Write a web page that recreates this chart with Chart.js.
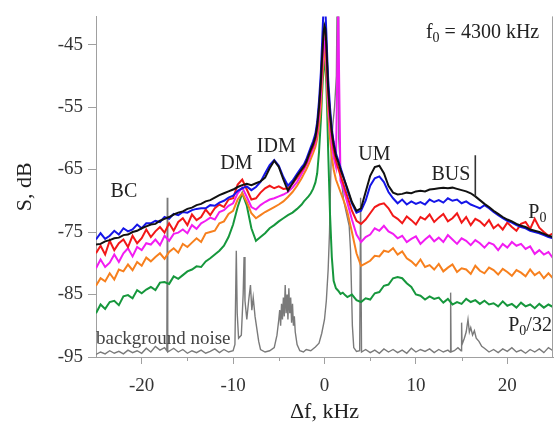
<!DOCTYPE html>
<html>
<head>
<meta charset="utf-8">
<script src="https://cdn.jsdelivr.net/npm/chart.js@4.4.1/dist/chart.umd.min.js"></script>
<style>
  html, body { margin: 0; padding: 0; background: #fff; }
  #wrap { width: 558px; height: 423px; }
</style>
</head>
<body>
<div id="wrap"><canvas id="spec" width="558" height="423"></canvas></div>
<script>
// frequency offset, kHz (denser around the pump line)
const df = [
  -25, -24.5, -24, -23.5, -23, -22.5, -22, -21.5, -21, -20.5, -20, -19.5, -19, -18.5, -18, -17.5, -17, -16.5, -16, -15.5, -15, -14.5, -14, -13.5, -13, -12.5, -12, -11.5, -11, -10.5, -10, -9.5, -9, -8.5, -8, -7.5, -7, -6.5, -6, -5.5, -5, -4.5, -4, -3.5, -3, -2.5,
  -2.25, -2, -1.75, -1.5, -1.25, -1, -0.8, -0.6, -0.4, -0.3, -0.2, -0.1, 0, 0.1, 0.2, 0.3, 0.4, 0.6, 0.8, 1, 1.25, 1.5, 1.75, 2, 2.25,
  2.5, 3, 3.5, 4, 4.5, 5, 5.5, 6, 6.5, 7, 7.5, 8, 8.5, 9, 9.5, 10, 10.5, 11, 11.5, 12, 12.5, 13, 13.5, 14, 14.5, 15, 15.5, 16, 16.5, 17, 17.5, 18, 18.5, 19, 19.5, 20, 20.5, 21, 21.5, 22, 22.5, 23, 23.5, 24, 24.5, 25
];

// spectra S, dB for pump powers P0 ... P0/32
const sP0 = [
  -77.0, -76.9, -76.5, -76.3, -76.0, -75.9, -75.5, -75.4, -75.0, -74.8, -74.4, -74.1, -73.8, -73.7, -73.2, -72.9, -72.6, -72.2, -71.9, -71.7, -71.3, -71.1, -70.7, -70.5, -70.1, -69.9, -69.5, -69.1, -68.8, -68.5, -68.2, -67.8, -67.5, -67.3, -67.5, -67.2, -66.9, -66.3, -64.8, -63.6, -64.6, -66.6, -68.4, -67.2, -66.0, -65.0,
  -64.5, -63.8, -62.8, -61.8, -61.0, -59.8, -58.0, -55.0, -51.0, -48.0, -45.5, -43.0, -42.0, -42.5, -45.0, -48.5, -52.0, -56.0, -59.0, -61.0, -62.8, -63.8, -65.0, -66.0, -67.0,
  -68.0, -70.2, -71.6, -71.2, -68.6, -66.0, -64.6, -64.4, -65.6, -67.6, -68.7, -69.0, -68.9, -68.7, -68.8, -68.5, -68.4, -68.5, -68.2, -68.1, -68.0, -67.9, -68.0, -67.9, -68.1, -68.3, -68.5, -68.8, -69.3, -69.9, -70.5, -71.0, -71.6, -72.1, -72.6, -73.0, -73.3, -73.7, -74.0, -74.2, -74.6, -74.8, -75.0, -75.3, -75.6, -75.8
];
const sP0_2 = [
  -76.2, -75.2, -76.1, -75.6, -74.8, -75.4, -74.4, -74.9, -74.6, -73.8, -74.4, -73.6, -73.6, -73.2, -73.4, -72.6, -72.9, -72.1, -72.3, -71.8, -71.9, -71.5, -71.3, -71.2, -71.2, -70.7, -70.8, -70.3, -70.0, -69.5, -69.2, -68.4, -68.0, -67.7, -68.3, -67.8, -67.0, -65.6, -64.3, -63.5, -64.4, -66.2, -67.6, -66.8, -65.7, -64.6,
  -64.2, -63.4, -62.4, -61.4, -60.5, -59.3, -57.4, -54.0, -49.5, -46.0, -42.5, -39.0, -38.0, -39.5, -43.0, -47.0, -50.5, -55.0, -58.5, -60.6, -62.4, -63.5, -64.7, -65.8, -67.0,
  -68.3, -70.4, -71.9, -71.6, -70.0, -67.6, -66.4, -66.1, -67.0, -68.6, -69.6, -70.4, -69.8, -70.6, -70.1, -70.5, -70.2, -70.6, -69.8, -70.2, -69.9, -70.3, -69.6, -70.0, -69.8, -70.4, -70.1, -70.6, -70.9, -71.2, -70.7, -71.2, -71.8, -72.3, -72.8, -73.2, -73.5, -73.9, -74.2, -74.4, -74.8, -75.0, -75.2, -75.5, -75.8, -76.0
];
const sP0_4 = [
  -78.4, -77.2, -78.6, -76.4, -77.9, -76.8, -76.2, -77.4, -75.6, -76.8, -76.0, -74.6, -75.8, -74.9, -74.2, -75.1, -73.6, -74.8, -73.4, -72.8, -73.9, -72.2, -73.1, -72.6, -71.4, -72.3, -71.2, -70.6, -71.0, -69.8, -69.6, -67.4, -66.6, -68.2, -69.8, -69.6, -68.7, -68.0, -67.6, -68.0, -67.7, -68.1, -68.0, -67.3, -66.3, -65.2,
  -64.7, -64.0, -63.0, -62.1, -61.3, -60.1, -58.5, -55.5, -51.5, -48.5, -45.5, -43.0, -42.5, -43.0, -45.5, -49.0, -52.2, -56.5, -59.6, -61.8, -63.5, -64.8, -66.0, -67.0, -68.2,
  -69.3, -71.6, -73.2, -73.7, -73.0, -72.0, -71.0, -70.6, -70.4, -71.2, -72.4, -72.9, -73.6, -72.5, -73.1, -73.8, -72.6, -73.0, -72.2, -73.4, -72.7, -72.1, -73.3, -72.8, -72.0, -73.5, -72.6, -73.9, -72.9, -73.3, -74.0, -73.1, -74.4, -73.8, -74.6, -73.5, -74.2, -74.8, -73.7, -73.4, -74.5, -72.9, -74.3, -75.0, -75.6, -75.2
];
const sP0_8 = [
  -80.8, -79.4, -80.6, -79.9, -78.6, -79.8, -78.4, -77.6, -78.9, -77.4, -77.9, -76.8, -77.0, -76.2, -77.1, -75.6, -76.4, -75.3, -75.1, -74.6, -75.2, -73.9, -74.5, -73.6, -73.2, -72.7, -73.0, -71.8, -71.5, -70.8, -70.4, -68.8, -67.9, -69.4, -71.0, -71.4, -70.7, -70.2, -69.8, -69.6, -69.3, -69.0, -68.6, -67.9, -67.0, -65.7,
  -65.0, -64.3, -63.5, -62.5, -61.6, -60.6, -59.1, -56.5, -53.0, -50.0, -47.5, -45.5, -44.5, -45.2, -47.5, -51.0, -54.0, -58.0, -61.0, -63.0, -64.5, -39.0, -66.8, -67.8, -69.0,
  -70.3, -73.0, -75.4, -76.6, -75.8, -75.4, -74.4, -74.8, -74.0, -74.9, -75.3, -76.0, -75.6, -76.6, -76.1, -75.7, -76.9, -76.2, -75.6, -76.5, -75.9, -76.6, -75.5, -76.2, -76.9, -76.0, -76.4, -77.1, -76.3, -76.8, -77.5, -76.7, -77.0, -77.9, -76.9, -77.5, -76.6, -77.2, -76.9, -77.7, -77.3, -78.5, -77.9, -78.6, -78.2, -79.2
];
const sP0_16 = [
  -83.6, -82.4, -82.9, -81.6, -82.6, -81.0, -81.3, -80.2, -81.1, -79.8, -80.4, -79.1, -79.7, -79.0, -78.4, -79.3, -78.2, -77.6, -78.3, -76.9, -77.4, -76.7, -76.0, -76.6, -75.2, -75.0, -74.8, -73.6, -73.3, -72.1, -71.6, -69.8, -68.8, -70.2, -72.0, -72.8, -72.3, -71.8, -71.4, -71.0, -70.6, -70.1, -69.4, -68.6, -67.6, -66.4,
  -65.7, -65.0, -64.2, -63.3, -62.4, -61.4, -60.1, -58.0, -55.0, -52.3, -49.5, -47.2, -46.2, -47.0, -49.5, -53.0, -56.0, -60.0, -63.0, -65.0, -66.6, -67.6, -68.6, -69.6, -70.6,
  -71.8, -75.0, -78.4, -80.4, -80.0, -79.6, -78.8, -78.9, -78.0, -78.2, -77.6, -78.6, -78.1, -79.2, -79.7, -80.4, -79.4, -80.6, -80.3, -81.0, -80.1, -81.3, -80.7, -80.2, -81.4, -80.8, -81.0, -81.7, -80.4, -81.2, -81.6, -80.7, -81.1, -81.8, -80.9, -81.4, -82.0, -81.1, -81.5, -82.1, -81.0, -81.9, -81.4, -82.4, -81.6, -82.4
];
const sP0_32 = [
  -88.0, -86.6, -87.3, -86.2, -86.0, -86.7, -85.3, -85.1, -85.6, -84.3, -84.8, -84.2, -83.8, -84.3, -83.1, -83.0, -83.3, -82.1, -82.5, -81.9, -81.3, -81.0, -80.5, -80.6, -79.7, -79.2, -78.6, -78.0, -77.2, -75.8, -73.8, -71.0, -68.8, -70.8, -74.4, -76.4, -75.8, -75.2, -74.4, -73.9, -73.3, -72.8, -72.3, -71.9, -71.3, -70.6,
  -70.1, -69.7, -69.3, -68.8, -68.1, -67.1, -65.6, -62.2, -57.2, -54.0, -51.0, -49.0, -48.0, -48.6, -51.2, -56.0, -62.0, -72.0, -79.0, -82.8, -84.0, -84.4, -84.9, -84.7, -85.1,
  -85.4, -85.0, -85.9, -86.2, -85.6, -85.8, -84.8, -84.6, -83.6, -83.4, -82.4, -82.2, -82.4, -83.2, -83.8, -85.0, -85.2, -85.8, -85.3, -85.7, -85.5, -86.3, -85.7, -86.6, -86.2, -86.5, -85.7, -86.2, -85.9, -86.5, -86.0, -86.6, -86.4, -86.9, -86.1, -86.8, -86.5, -87.1, -86.3, -86.9, -86.6, -87.2, -86.5, -87.1, -86.6, -87.0
];

// background noise spectrum (own frequency grid)
const noiseDf = [
  -25, -24.5, -24, -23.5, -23, -22.5, -22, -21.5, -21, -20.5,
  -20, -19.5, -19, -18.5, -18, -17.5, -17.25, -17.2, -17.15, -16.5,
  -16, -15.5, -15, -14.5, -14, -13.5, -13, -12.5, -12, -11.5,
  -11, -10.5, -10, -9.8, -9.65, -9.55, -9.4, -9.1, -8.9, -8.8,
  -8.7, -8.5, -8.3, -8.1, -7.95, -7.8, -7.6, -7.4, -7.2, -7,
  -6.5, -6, -5.5, -5.2, -5, -4.9, -4.8, -4.7, -4.6, -4.5,
  -4.4, -4.3, -4.2, -4.1, -4, -3.9, -3.8, -3.7, -3.6, -3.5,
  -3.4, -3.3, -3.2, -3, -2.7, -2.3, -2, -1.5, -1, -0.6,
  -0.3, 0, 0.2, 0.4, 0.55, 0.65, 0.75, 0.9, 1.1, 1.3,
  1.38, 1.48, 1.55, 1.8, 2.1, 2.4, 2.7, 2.85, 2.95, 3.05,
  3.2, 3.5, 3.85, 3.95, 4.05, 4.5, 5, 5.5, 6, 6.5,
  7, 7.5, 8, 8.5, 9, 9.5, 10, 10.5, 11, 11.5,
  12, 12.5, 13, 13.5, 13.75, 13.8, 13.85, 14.2, 14.6, 14.95,
  15, 15.05, 15.3, 15.5, 15.7, 15.85, 16, 16.2, 16.4, 16.6,
  16.9, 17.2, 17.5, 18, 18.5, 19, 19.5, 20, 20.5, 21,
  21.5, 22, 22.5, 23, 23.5, 24, 24.5, 25
];
const noiseS = [
  -94.6, -94.2, -94.5, -94.0, -94.4, -94.1, -94.5, -93.9, -94.3, -94.0,
  -94.4, -93.6, -94.2, -93.3, -93.9, -93.5, -94.0, -69.5, -94.2, -93.6,
  -94.2, -93.8, -94.4, -94.0, -94.3, -93.9, -94.4, -94.1, -93.7, -94.3,
  -93.8, -94.2, -94.0, -93.0, -78.0, -88.0, -92.0, -91.5, -85.0, -79.0,
  -86.0, -89.0, -86.0, -83.5, -87.5, -85.5, -88.5, -90.5, -92.5, -93.8,
  -94.2, -94.0, -93.5, -91.5, -89.0, -87.5, -90.0, -86.5, -89.0, -85.5,
  -88.5, -83.5, -88.0, -85.0, -89.0, -84.0, -88.0, -85.5, -89.5, -86.5,
  -90.0, -88.5, -91.0, -93.0, -94.0, -94.2, -93.8, -94.0, -93.4, -92.8,
  -91.2, -89.0, -86.0, -81.0, -75.0, -68.0, -62.0, -58.0, -55.0, -50.0,
  -38.0, -38.0, -60.0, -66.0, -70.0, -72.0, -74.0, -78.0, -84.0, -90.0,
  -93.5, -94.1, -94.0, -69.5, -94.2, -93.8, -94.3, -93.9, -94.4, -93.7,
  -94.2, -93.8, -94.3, -93.9, -94.4, -93.6, -94.2, -93.8, -94.1, -93.7,
  -94.3, -93.8, -94.2, -93.9, -94.2, -84.7, -94.2, -94.0, -93.5, -94.0,
  -89.5, -93.0, -92.0, -91.0, -89.0, -91.0, -90.3, -91.5, -90.8, -92.0,
  -92.5, -93.3, -93.6, -94.2, -93.8, -94.3, -93.7, -94.1, -93.5, -94.2,
  -93.9, -94.4, -93.8, -94.2, -93.7, -94.3, -93.5, -94.0
];

// BUS marker line: frequency and its S range
const busDf = [16.5, 16.5];
const busS = [-69.3, -62.7];

const xTicks = [-20, -10, 0, 10, 20];
const xMinorTicks = [-15, -5, 5, 15];
const yTicks = [-95, -85, -75, -65, -55, -45];

const serif = '"Liberation Serif", "Times New Roman", serif';
const axisColor = '#a0a0a0';
const textColor = '#222';

const toPoints = (xs, ys) => xs.map((v, i) => ({ x: v, y: ys[i] }));

// text labels placed in data coordinates
const notes = [
  { text: 'BC', x: -23.4, y: -68.6 },
  { text: 'DM', x: -11.4, y: -64.0 },
  { text: 'IDM', x: -7.4, y: -61.3 },
  { text: 'UM', x: 3.7, y: -62.6 },
  { text: 'BUS', x: 11.7, y: -65.9 },
  { text: 'P', sub: '0', x: 22.3, y: -71.9 },
  { text: 'P', sub: '0', tail: '/32', x: 20.1, y: -90.0 },
  { text: 'background noise', x: -25, y: -92.2, size: 19, color: '#444' },
  { text: 'f', sub: '0', tail: ' = 4300 kHz', x: 11.1, y: -43.1, size: 20 }
];

const decorations = {
  id: 'decorations',
  afterDraw(chart) {
    const { ctx, chartArea: a } = chart;
    const sx = chart.scales.x, sy = chart.scales.y;
    ctx.save();

    // right frame line and minor x ticks
    ctx.strokeStyle = axisColor;
    ctx.lineWidth = 1;
    ctx.beginPath();
    ctx.moveTo(Math.round(a.right) - 0.5, a.top);
    ctx.lineTo(Math.round(a.right) - 0.5, a.bottom);
    xMinorTicks.forEach(v => {
      const px = Math.round(sx.getPixelForValue(v)) + 0.5;
      ctx.moveTo(px, a.bottom);
      ctx.lineTo(px, a.bottom + 4);
    });
    ctx.stroke();

    // annotations
    ctx.textBaseline = 'middle';
    ctx.textAlign = 'left';
    notes.forEach(n => {
      const size = n.size || 20;
      let px = sx.getPixelForValue(n.x);
      const py = sy.getPixelForValue(n.y);
      ctx.fillStyle = n.color || textColor;
      ctx.font = size + 'px ' + serif;
      ctx.fillText(n.text, px, py);
      px += ctx.measureText(n.text).width;
      if (n.sub) {
        const subSize = Math.round(size * 0.72);
        ctx.font = subSize + 'px ' + serif;
        ctx.fillText(n.sub, px, py + size * 0.3);
        px += ctx.measureText(n.sub).width;
      }
      if (n.tail) {
        ctx.font = size + 'px ' + serif;
        ctx.fillText(n.tail, px, py);
      }
    });

    // axis titles
    ctx.fillStyle = textColor;
    ctx.font = '22px ' + serif;
    ctx.textAlign = 'center';
    ctx.fillText('\u0394f, kHz', sx.getPixelForValue(0), 412);
    ctx.translate(25, (a.top + a.bottom) / 2);
    ctx.rotate(-Math.PI / 2);
    ctx.fillText('S, dB', 0, 0);
    ctx.restore();
  }
};

const line = (data, color, width) => ({
  data,
  borderColor: color,
  borderWidth: width,
  pointRadius: 0,
  tension: 0,
  fill: false
});

new Chart(document.getElementById('spec'), {
  type: 'line',
  data: {
    datasets: [
      line(toPoints(busDf, busS), '#333', 1.6),
      line(toPoints(df, sP0), '#111111', 2),
      line(toPoints(df, sP0_2), '#1515e8', 2),
      line(toPoints(df, sP0_4), '#f21818', 2),
      line(toPoints(df, sP0_8), '#f21cf2', 2),
      line(toPoints(df, sP0_16), '#f7801e', 2),
      line(toPoints(df, sP0_32), '#16973c', 2),
      line(toPoints(noiseDf, noiseS), '#7a7a7a', 1.4)
    ]
  },
  options: {
    responsive: false,
    animation: false,
    devicePixelRatio: 1,
    layout: { padding: { left: 0, right: 5, top: 13, bottom: 0 } },
    plugins: {
      legend: { display: false },
      tooltip: { enabled: false }
    },
    scales: {
      x: {
        type: 'linear',
        min: -25,
        max: 25,
        afterBuildTicks: ax => { ax.ticks = xTicks.map(v => ({ value: v })); },
        afterFit: ax => { ax.height = 66; },
        grid: { drawOnChartArea: false, tickLength: 7, color: axisColor },
        border: { display: true, color: axisColor },
        ticks: {
          color: '#333',
          padding: 11,
          maxRotation: 0,
          autoSkip: false,
          font: { family: serif, size: 19 },
          callback: v => String(v)
        }
      },
      y: {
        type: 'linear',
        min: -95,
        max: -40.5,
        afterBuildTicks: ax => { ax.ticks = yTicks.map(v => ({ value: v })); },
        afterFit: ax => { ax.width = 96; },
        grid: { drawOnChartArea: false, tickLength: 8, color: axisColor },
        border: { display: true, color: axisColor },
        ticks: {
          color: '#333',
          padding: 5,
          autoSkip: false,
          font: { family: serif, size: 19 },
          callback: v => String(v)
        }
      }
    }
  },
  plugins: [decorations]
});
</script>
</body>
</html>
